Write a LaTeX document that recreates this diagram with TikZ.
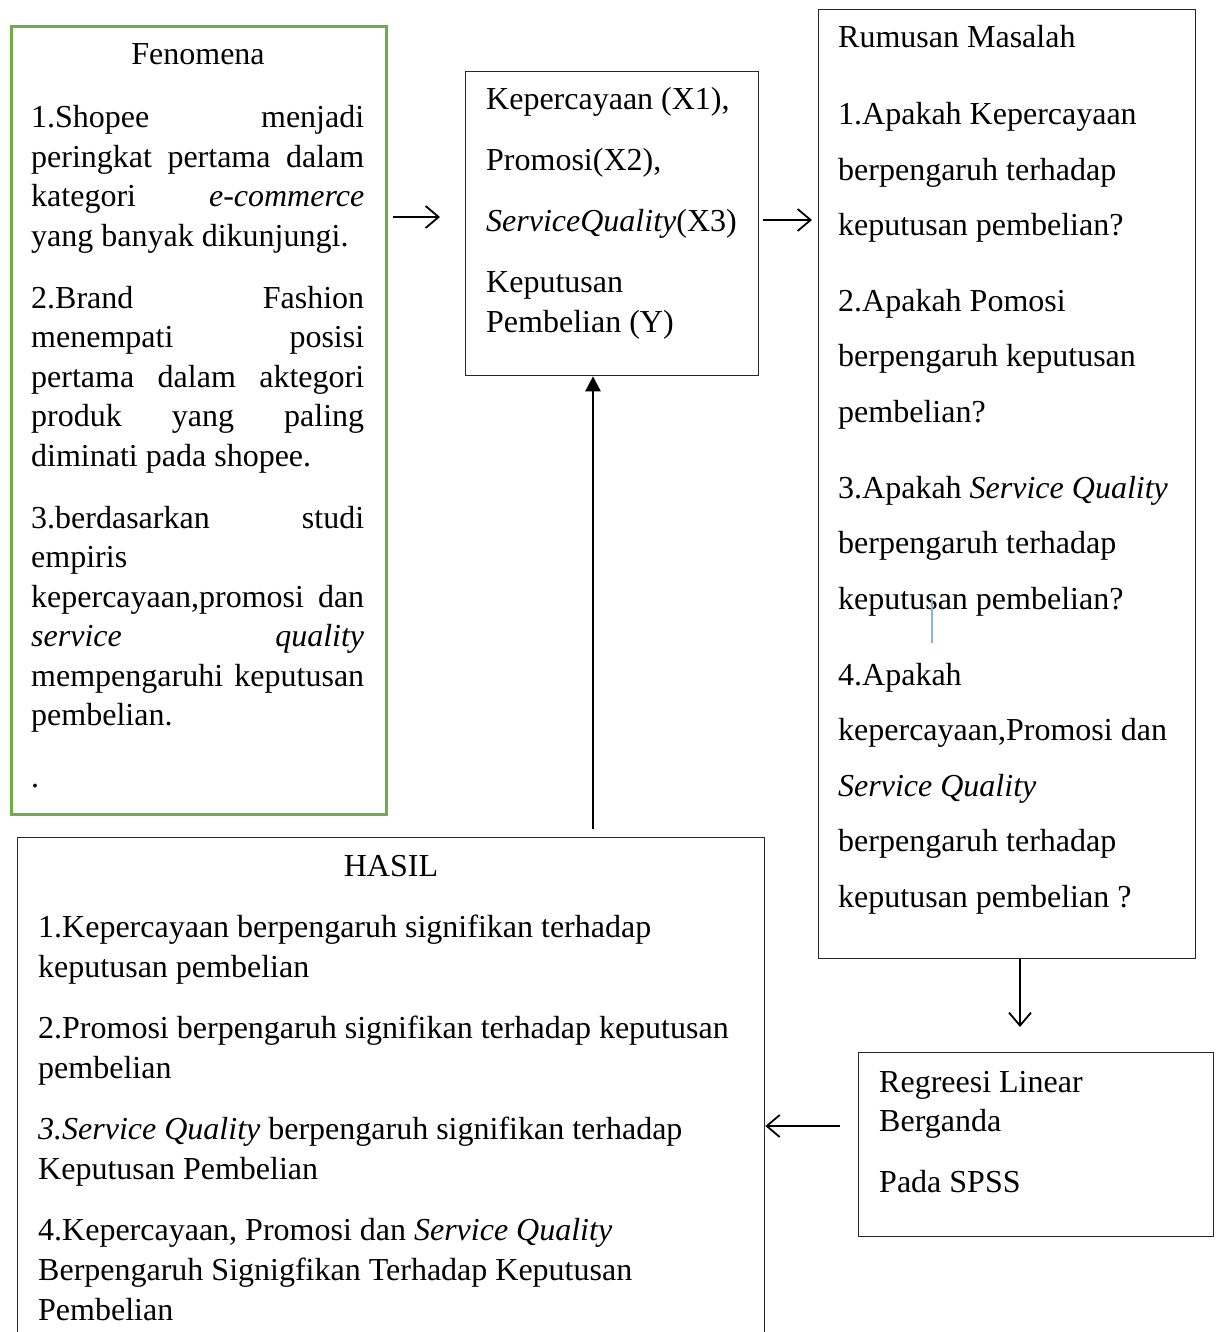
\documentclass[tikz,border=0pt]{standalone}
\usepackage{fontspec}
\setmainfont{Liberation Serif}
\usetikzlibrary{arrows.meta}
\definecolor{fengreen}{RGB}{112,173,71}
\definecolor{cursorblue}{RGB}{140,180,225}
\begin{document}
\begin{tikzpicture}[x=1pt,y=-1pt,
  box/.style={draw=black!85, line width=1.3pt, inner sep=0pt, anchor=north west},
  greenbox/.style={draw=fengreen, line width=2.6pt, inner sep=0pt, anchor=north west},
  txt/.style={inner sep=0pt, anchor=base west, font=\fontsize{32}{39.5}\selectfont},
  ttl/.style={inner sep=0pt, anchor=base, font=\fontsize{32}{39.5}\selectfont},
  openarr/.style={line width=1.8pt, -{Straight Barb[length=13pt,width=22pt,line width=1.8pt]}},
  fillarr/.style={line width=2.5pt, -{Triangle[length=15pt,width=15pt]}}]
\useasboundingbox[fill=white] (0,0) rectangle (1215,1332);

% boxes
\node[greenbox, minimum width=375pt, minimum height=788pt] (fen) at (10,25) {};
\node[box, minimum width=293pt, minimum height=304pt] (mid) at (465,71) {};
\node[box, minimum width=377pt, minimum height=949pt] (rum) at (818,9) {};
\node[box, minimum width=355pt, minimum height=184pt] (reg) at (858,1052) {};
\begin{scope}
\clip (0,0) rectangle (1215,1332);
\node[box, minimum width=747pt, minimum height=520pt] (hasil) at (17,837) {};
\end{scope}

% Fenomena
\node[ttl] (fentitle) at (198,65) {Fenomena};
\node[txt] (fentext) at (31,128) {\parbox[t]{333pt}{%
\makebox[\linewidth][s]{1.Shopee menjadi}\\
\makebox[\linewidth][s]{peringkat pertama dalam}\\
\makebox[\linewidth][s]{kategori \textit{e-commerce}}\\
yang banyak dikunjungi.\\[22.5pt]
\makebox[\linewidth][s]{2.Brand Fashion}\\
\makebox[\linewidth][s]{menempati posisi}\\
\makebox[\linewidth][s]{pertama dalam aktegori}\\
\makebox[\linewidth][s]{produk yang paling}\\
diminati pada shopee.\\[22.5pt]
\makebox[\linewidth][s]{3.berdasarkan studi}\\
empiris\\
\makebox[\linewidth][s]{kepercayaan,promosi dan}\\
\makebox[\linewidth][s]{\textit{service} \textit{quality}}\\
\makebox[\linewidth][s]{mempengaruhi keputusan}\\
pembelian.\\[22.5pt]
.}};

% Variables
\node[txt] (midtext) at (486,110) {\parbox[t]{270pt}{%
Kepercayaan (X1),\\[21pt]
Promosi(X2),\\[22pt]
\textit{ServiceQuality}(X3)\\[21.5pt]
Keputusan\\
Pembelian (Y)}};

% Rumusan Masalah
\node[txt, font=\fontsize{32}{55.5}\selectfont] (rumtext) at (838,48) {\parbox[t]{350pt}{%
Rumusan Masalah\\[21.5pt]
1.Apakah Kepercayaan\\
berpengaruh terhadap\\
keputusan pembelian?\\[20pt]
2.Apakah Pomosi\\
berpengaruh keputusan\\
pembelian?\\[20.5pt]
3.Apakah \textit{Service Quality}\\
berpengaruh terhadap\\
keputusan pembelian?\\[20.5pt]
4.Apakah\\
kepercayaan,Promosi dan\\
\textit{Service Quality}\\
berpengaruh terhadap\\
keputusan pembelian ?}};

% Regresi
\node[txt] (regtext) at (879,1092) {\parbox[t]{320pt}{%
Regreesi Linear\\
Berganda\\[21.5pt]
Pada SPSS}};

% Hasil
\node[ttl] (hasiltitle) at (391,876) {HASIL};
\node[txt, font=\fontsize{32}{40}\selectfont] (hasiltext) at (38,937) {\parbox[t]{720pt}{%
1.Kepercayaan berpengaruh signifikan terhadap\\
keputusan pembelian\\[21pt]
2.Promosi berpengaruh signifikan terhadap keputusan\\
pembelian\\[21pt]
\textit{3.Service Quality} berpengaruh signifikan terhadap\\
Keputusan Pembelian\\[21pt]
4.Kepercayaan, Promosi dan \textit{Service Quality}\\
Berpengaruh Signigfikan Terhadap Keputusan\\
Pembelian}};

% connectors
\draw[openarr, shorten <=5pt, shorten >=25pt] (fen.east |- 0,217) -- (mid.west |- 0,217);
\draw[openarr, shorten <=4pt, shorten >=6pt] (mid.east |- 0,220) -- (rum.west |- 0,220);
\draw[openarr, shorten >=25pt] (rum.south -| 1020,0) -- (reg.north -| 1020,0);
\draw[openarr, shorten <=18pt] (reg.west |- 0,1126) -- (hasil.east |- 0,1126);
\draw[fillarr, shorten <=8pt] (hasil.north -| 593,0) -- (mid.south -| 593,0);

% text cursor mark
\draw[cursorblue, line width=1.5pt] (932,598) -- (932,643);
\end{tikzpicture}
\end{document}
